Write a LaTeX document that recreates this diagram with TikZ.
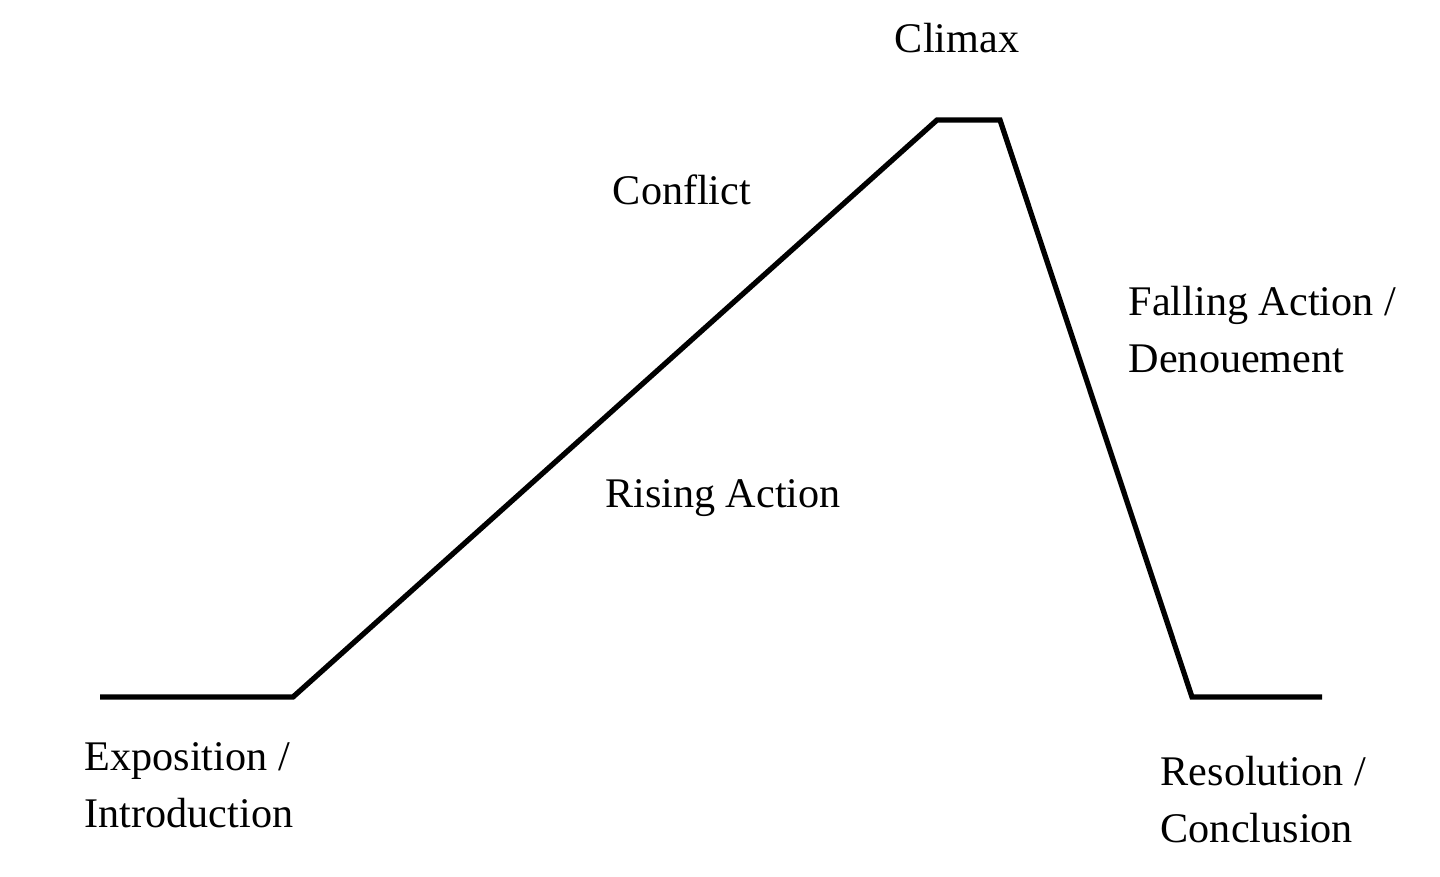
\documentclass[tikz,border=0pt]{standalone}
\usepackage{fontspec}
\setmainfont{Liberation Serif}
\begin{document}
\begin{tikzpicture}
            [x=0.01cm, y=-0.01cm,
             plot/.style = {line width = 1.5pt, line join = miter},
             stage/.style = {inner sep = 0pt, font = \fontsize{12}{16.2}\selectfont},
             twoline/.style = {stage, align = left, anchor = west}]
            \useasboundingbox (0,0) rectangle (1440,876);
            % the arc of the story
            \coordinate (start) at (100,697);
            \coordinate (rise) at (293,697);
            \coordinate (peakl) at (937,120);
            \coordinate (peakr) at (1000,120);
            \coordinate (fall) at (1192,697);
            \coordinate (end) at (1322,697);
            \draw[plot] (start) -- (rise) -- (peakl) -- (peakr) -- (fall) -- (end);
            % labels
            \node[stage] (climax) at (957,38) {Climax};
            \node[stage] (conflict) at (682,190) {Conflict};
            \node[stage] (rising) at (723,498) {Rising Action};
            \node[twoline] (falling) at (1128,330) {Falling Action /\\Denouement};
            \node[twoline] (expo) at (84,785) {Exposition /\\Introduction};
            \node[twoline] (resol) at (1160,800) {Resolution /\\Conclusion};
        \end{tikzpicture}
\end{document}
